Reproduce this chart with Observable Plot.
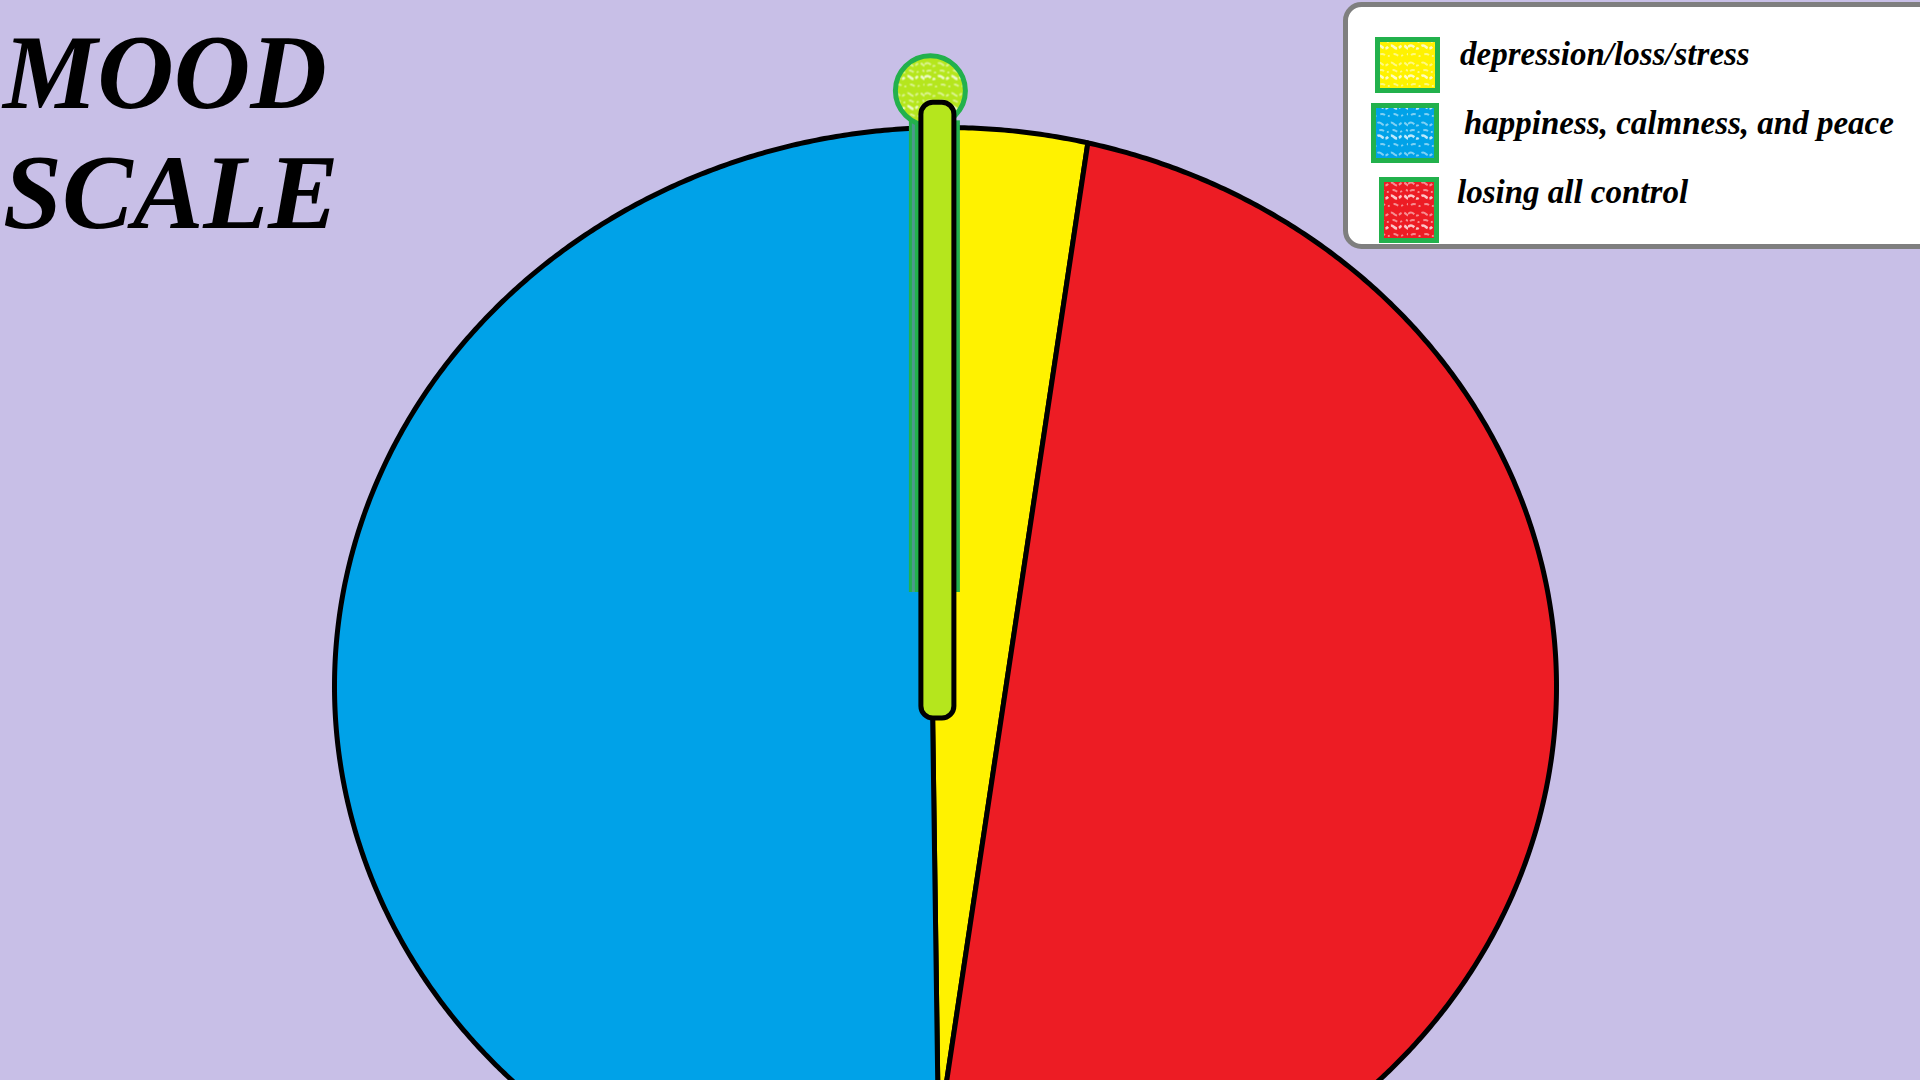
<!DOCTYPE html>
<html>
<head>
<meta charset="utf-8">
<script src="https://cdn.jsdelivr.net/npm/d3@7"></script>
<script src="https://cdn.jsdelivr.net/npm/@observablehq/plot@0.6"></script>
<style>
  html, body { margin: 0; padding: 0; background: #c8bfe7; overflow: hidden; }
  #wrap { position: relative; width: 1920px; height: 1080px; background: #c8bfe7; }
  #chart, #overlay { position: absolute; left: 0; top: 0; }
  #overlay { pointer-events: none; }
</style>
</head>
<body>
<div id="wrap">
  <div id="chart"></div>
  <svg id="overlay" width="1920" height="1080"></svg>
</div>
<script>
// ---------- data ----------
const categories = ["depression/loss/stress", "losing all control", "happiness, calmness, and peace"]; // clockwise from top
const shares = [2.6, 47.6, 49.8];           // percent of the mood scale
const sliceColors = ["#fff200", "#ed1c24", "#00a2e8"];
const legendOrder = ["depression/loss/stress", "happiness, calmness, and peace", "losing all control"];
const titleLines = ["MOOD", "SCALE"];
const needleShare = [0];                     // pointer position on the scale (percent, from top)

// ---------- layout ----------
const W = 1920, H = 1080;
const CX = 945, CY = 686, RX = 611, RY = 559;   // outline of the pie (ellipse)
const AX = 938, AY = 1135;                        // pie hub, where the slices meet
const START = -0.014;                             // rotation of the first slice (radians)

const data = categories.map((c, i) => ({category: c, share: shares[i], color: sliceColors[i]}));
const colorOf = Object.fromEntries(data.map(d => [d.category, d.color]));

// ray from the hub meets the ellipse outline
function rim(a) {
  const dx = Math.sin(a), dy = -Math.cos(a);
  const px = AX - CX, py = AY - CY;
  const A = dx * dx / (RX * RX) + dy * dy / (RY * RY);
  const B = 2 * (px * dx / (RX * RX) + py * dy / (RY * RY));
  const C = px * px / (RX * RX) + py * py / (RY * RY) - 1;
  const t = (-B + Math.sqrt(B * B - 4 * A * C)) / (2 * A);
  return [AX + t * dx, AY + t * dy];
}

const arcs = d3.pie().sort(null).value(d => d.share).startAngle(START).endAngle(START + 2 * Math.PI)(data);
const slicePoints = arcs.map(arc => {
  const n = Math.max(2, Math.ceil((arc.endAngle - arc.startAngle) / 0.004));
  const pts = [{x: AX, y: AY}];
  for (let i = 0; i <= n; i++) {
    const a = arc.startAngle + (arc.endAngle - arc.startAngle) * i / n;
    const [x, y] = rim(a);
    pts.push({x, y});
  }
  pts.push({x: AX, y: AY});
  return {category: arc.data.category, color: arc.data.color, pts};
});

// needle (pointer) derived from the scale position
const needle = needleShare.map(s => {
  const a = START + s / 100 * 2 * Math.PI;
  const [tx, ty] = rim(a);
  return {
    x1: tx - 3, x2: tx + 30, y1: ty - 25, y2: 718,
    gx1: tx - 15, gx2: tx + 36, gy1: ty - 7, gy2: 592,
    cx: tx + 6, cy: ty - 37
  };
});

const chart = Plot.plot({
  width: W, height: H,
  marginTop: 0, marginRight: 0, marginBottom: 0, marginLeft: 0,
  x: {domain: [0, W], range: [0, W], axis: null},
  y: {domain: [0, H], range: [0, H], axis: null},
  style: {background: "transparent", overflow: "visible"},
  marks: [
    ...slicePoints.map(s => Plot.line(s.pts, {
      x: "x", y: "y", fill: s.color, stroke: "black", strokeWidth: 5, strokeLinejoin: "round", curve: "linear"
    })),
    Plot.rect(needle, {x1: "gx1", x2: "gx2", y1: "gy1", y2: "gy2", fill: "#22b14c"}),
    Plot.rect(needle, {x1: d => d.gx1 + 3, x2: d => d.gx1 + 6, y1: "gy1", y2: "gy2", fill: "#5f8fa8", fillOpacity: 0.7}),
    Plot.dot(needle, {x: "cx", y: "cy", r: 35, fill: "url(#crayon-green)", stroke: "#22b14c", strokeWidth: 5}),
    Plot.rect(needle, {x1: "x1", x2: "x2", y1: "y1", y2: "y2", fill: "#b5e61d", stroke: "black", strokeWidth: 5, rx: 12})
  ]
});
document.getElementById("chart").appendChild(chart);

// ---------- overlay: textures, title, legend ----------
const ov = d3.select("#overlay");
const defs = ov.append("defs");
function crayon(id, base) {
  const p = defs.append("pattern").attr("id", id).attr("patternUnits", "userSpaceOnUse")
    .attr("width", 44).attr("height", 30);
  p.append("rect").attr("width", 44).attr("height", 30).attr("fill", base);
  const streaks = [
    "M0 4 q3 -3 6 0 t6 0 t6 0 t6 0 t6 0 t6 0 t6 0 t6 0",
    "M2 11 q3 -2 6 0 t6 0 t6 0 t6 0 t6 0 t6 0 t6 0",
    "M0 17 q3 -3 6 0 t6 0 t6 0 t6 0 t6 0 t6 0 t6 0 t6 0",
    "M3 25 q3 -2 6 0 t6 0 t6 0 t6 0 t6 0 t6 0 t6 0"
  ];
  streaks.forEach((d, i) => p.append("path").attr("d", d).attr("fill", "none")
    .attr("stroke", "white").attr("stroke-opacity", i === 2 ? 0.75 : 0.5).attr("stroke-width", i === 2 ? 2.5 : 2)
    .attr("stroke-dasharray", i % 2 ? "5 3 2 4" : "7 2 3 3"));
}
crayon("crayon-yellow", "#fff200");
crayon("crayon-blue", "#00a2e8");
crayon("crayon-red", "#ed1c24");
crayon("crayon-green", "#b5e61d");

// title
const title = ov.append("text")
  .attr("font-family", "'Liberation Serif', 'Times New Roman', serif")
  .attr("font-weight", "bold").attr("font-style", "italic").attr("font-size", 106)
  .attr("fill", "black");
titleLines.forEach((t, i) => title.append("tspan").attr("x", 3).attr("y", 108 + i * 120).text(t));

// legend
const legendBoxes = [
  {x: 1375, y: 37, w: 65, h: 56, tx: 1460, ty: 65},
  {x: 1371, y: 103, w: 68, h: 60, tx: 1464, ty: 134},
  {x: 1379, y: 177, w: 60, h: 66, tx: 1457, ty: 203}
];
const texId = {"#fff200": "crayon-yellow", "#00a2e8": "crayon-blue", "#ed1c24": "crayon-red"};
ov.append("rect").attr("x", 1345.5).attr("y", 4.5).attr("width", 700).attr("height", 242)
  .attr("rx", 16).attr("fill", "white").attr("stroke", "#7f7f7f").attr("stroke-width", 5);
legendOrder.forEach((cat, i) => {
  const b = legendBoxes[i];
  ov.append("rect").attr("x", b.x + 2.5).attr("y", b.y + 2.5).attr("width", b.w - 5).attr("height", b.h - 5)
    .attr("fill", `url(#${texId[colorOf[cat]]})`).attr("stroke", "#22b14c").attr("stroke-width", 5);
  ov.append("text").attr("x", b.tx).attr("y", b.ty)
    .attr("font-family", "'Liberation Serif', 'Times New Roman', serif")
    .attr("font-weight", "bold").attr("font-style", "italic").attr("font-size", 33)
    .attr("fill", "black").text(cat);
});
</script>
</body>
</html>
